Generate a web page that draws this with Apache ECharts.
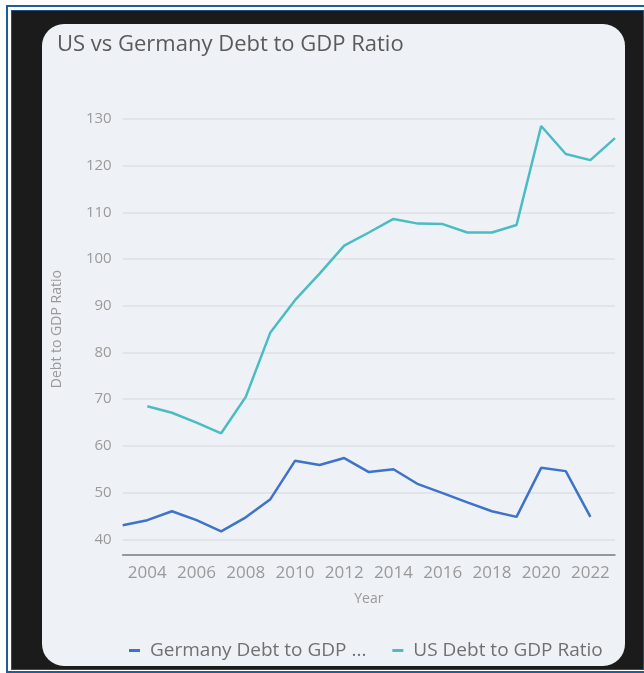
<!DOCTYPE html>
<html>
<head>
<meta charset="utf-8">
<script src="https://cdn.jsdelivr.net/npm/echarts@6/dist/echarts.min.js"></script>
<style>
  html, body { margin: 0; padding: 0; background: #ffffff; }
  .frame {
    position: absolute; left: 6px; top: 5px; width: 640px; height: 668px;
    border: 2px solid #1d5e99; box-sizing: border-box;
  }
  .frame-inner {
    position: absolute; left: 11px; top: 10px; width: 633px; height: 660px;
    border: 1.5px solid #1d4f82; box-sizing: border-box; background: #1b1b1b;
  }
  .panel {
    position: absolute; left: 42px; top: 24px; width: 583px; height: 642px;
    background: #eef2f7; border-radius: 22px;
  }
  #chart { position: absolute; left: 0; top: 0; width: 644px; height: 673px; }
</style>
</head>
<body>
<div class="frame"></div>
<div class="frame-inner"></div>
<div class="panel"></div>
<div id="chart"></div>
<script>
const years = ['2003', '2004', '2005', '2006', '2007', '2008', '2009', '2010', '2011', '2012', '2013',
  '2014', '2015', '2016', '2017', '2018', '2019', '2020', '2021', '2022', '2023']

const germanyRatio = [43.0, 44.1, 46.0, 44.1, 41.7, 44.7, 48.6, 56.8, 55.9, 57.4, 54.4,
  55.0, 51.8, 49.9, 47.9, 46.0, 44.8, 55.3, 54.6, 44.8, null]

const usRatio = [null, 68.5, 67.1, 65.0, 62.7, 70.5, 84.3, 91.2, 96.9, 102.9, 105.7,
  108.6, 107.6, 107.5, 105.7, 105.7, 107.3, 128.5, 122.5, 121.2, 125.9]

const chart = echarts.init(document.getElementById('chart'))
const font = '"Open Sans", Roboto, sans-serif'

chart.setOption({
  backgroundColor: 'transparent',
  animation: false,
  textStyle: { fontFamily: font },
  title: {
    text: 'US vs Germany Debt to GDP Ratio',
    left: 52,
    top: 29,
    textStyle: { color: '#5a5a5a', fontSize: 22, fontWeight: 'normal', fontFamily: font }
  },
  legend: {
    left: 124,
    top: 636,
    itemGap: 26,
    itemWidth: 11,
    itemHeight: 3,
    icon: 'rect',
    textStyle: { color: '#707070', fontSize: 19, fontFamily: font, padding: [0, 0, 0, 5] },
    formatter: (name) => name.length > 22 ? name.slice(0, 19) + ' ...' : name
  },
  grid: { left: 122.7, right: 29, top: 119, bottom: 133.7 },
  xAxis: {
    type: 'category',
    data: years,
    boundaryGap: false,
    offset: 15,
    name: 'Year',
    nameLocation: 'middle',
    nameGap: 38,
    nameTextStyle: { color: '#999999', fontSize: 14 },
    axisLine: { lineStyle: { color: '#7a7a7a', width: 1.5 } },
    axisTick: { show: false },
    axisLabel: {
      color: '#999999',
      fontSize: 17,
      margin: 10,
      interval: (i, v) => Number(v) % 2 === 0
    },
    splitLine: { show: false }
  },
  yAxis: {
    type: 'value',
    min: 40,
    max: 130,
    interval: 10,
    name: 'Debt to GDP Ratio',
    nameLocation: 'middle',
    nameGap: 59,
    nameRotate: 90,
    nameTextStyle: { color: '#999999', fontSize: 14 },
    axisLine: { show: false },
    axisTick: { show: false },
    axisLabel: { color: '#9a9a9a', fontSize: 15, margin: 11 },
    splitLine: { lineStyle: { color: '#dcdfe3', width: 1.5 } }
  },
  series: [
    {
      name: 'Germany Debt to GDP Ratio',
      type: 'line',
      data: germanyRatio,
      symbol: 'none',
      color: '#3f72c9',
      lineStyle: { width: 2.5 }
    },
    {
      name: 'US Debt to GDP Ratio',
      type: 'line',
      data: usRatio,
      symbol: 'none',
      color: '#4bbcc2',
      lineStyle: { width: 2.5 }
    }
  ]
})
</script>
</body>
</html>
